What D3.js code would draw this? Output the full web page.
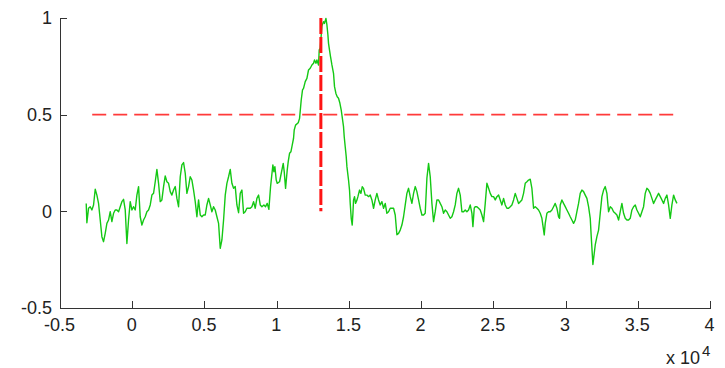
<!DOCTYPE html>
<meta charset="utf-8">
<style>

    body {
        margin: 0;
        background: #fff;
    }

    .axis path,
    .axis line {
        stroke: #333;
        stroke-width: 1px;
        shape-rendering: crispEdges;
    }

    .axis text,
    .multiplier {
        font-family: "Liberation Sans", Arial, sans-serif;
        font-size: 18px;
        fill: #222;
    }

</style>
<body>
<svg id="chart" width="725" height="368"></svg>
</body>
<script src="https://d3js.org/d3.v7.min.js"></script>

<script>

    // sampled trace, [x, amplitude]
    var signal = [
        [-3185, 0.041], [-3139, -0.059], [-3023, 0.016], [-2908, 0.024], [-2792, 0.007], [-2677, 0.033],
        [-2562, 0.114], [-2446, 0.084], [-2331, 0.041], [-2215, -0.045], [-2100, -0.131], [-1985, -0.157],
        [-1869, -0.114], [-1754, -0.062], [-1638, -0.045], [-1523, -0.002], [-1408, -0.053], [-1292, -0.010],
        [-1177, 0.007], [-1061, 0.007], [-946, -0.002], [-831, 0.024], [-715, 0.050], [-600, 0.062],
        [-484, 0.007], [-369, -0.166], [-254, -0.045], [-138, 0.050], [-23, 0.007], [93, 0.024],
        [208, 0.007], [323, 0.084], [439, 0.128], [554, -0.028], [670, -0.071], [785, -0.045],
        [900, -0.028], [1016, -0.002], [1131, 0.007], [1247, 0.033], [1362, 0.084], [1477, 0.093],
        [1593, 0.153], [1708, 0.217], [1824, 0.145], [1939, 0.050], [2054, 0.059], [2170, 0.128],
        [2285, 0.183], [2401, 0.153], [2516, 0.145], [2631, 0.102], [2747, 0.084], [2862, 0.110],
        [2978, 0.128], [3093, 0.067], [3208, 0.024], [3324, 0.179], [3439, 0.240], [3555, 0.252],
        [3670, 0.197], [3785, 0.093], [3901, 0.128], [4016, 0.179], [4132, 0.162], [4247, 0.110],
        [4362, 0.050], [4478, -0.028], [4593, 0.059], [4709, -0.019], [4824, -0.028], [4939, -0.019],
        [5055, -0.019], [5170, 0.033], [5286, 0.067], [5401, 0.033], [5516, -0.002], [5632, 0.024],
        [5747, 0.007], [5863, -0.028], [5978, -0.062], [6093, -0.191], [6209, -0.148], [6324, -0.045],
        [6440, 0.084], [6555, 0.145], [6670, 0.179], [6786, 0.217], [6901, 0.145], [7017, 0.119],
        [7132, 0.128], [7247, 0.033], [7363, -0.007], [7478, 0.093], [7594, 0.110], [7709, -0.010],
        [7824, -0.002], [7940, 0.016], [8055, 0.016], [8171, 0.016], [8286, 0.024], [8401, 0.050],
        [8517, 0.016], [8632, 0.067], [8748, 0.084], [8863, 0.033], [8978, 0.024],
        [9115, 0.033], [9230, 0.024], [9346, 0.041], [9461, 0.010], [9577, 0.127], [9738, 0.240],
        [9808, 0.205], [9877, 0.231], [9969, 0.162], [10038, 0.145], [10200, 0.153], [10385, 0.222],
        [10454, 0.248], [10523, 0.205], [10616, 0.119], [10731, 0.214], [10800, 0.257], [10892, 0.300],
        [10985, 0.308], [11077, 0.343], [11169, 0.378], [11215, 0.421], [11308, 0.446], [11492, 0.458],
        [11585, 0.481],
        [11700, 0.576], [11790, 0.628], [11860, 0.636], [11977, 0.671], [12094, 0.688], [12205, 0.731],
        [12323, 0.740], [12441, 0.757], [12552, 0.766], [12621, 0.783], [12718, 0.766], [12787, 0.783],
        [12898, 0.757], [12946, 0.835], [13015, 0.843], [13133, 0.960], [13244, 0.981], [13313, 0.972],
        [13410, 0.998], [13479, 0.964], [13548, 0.912], [13590, 0.869], [13659, 0.834], [13728, 0.800],
        [13825, 0.757], [13936, 0.714], [14005, 0.645], [14102, 0.610], [14192, 0.593], [14282, 0.585],
        [14379, 0.559], [14469, 0.524],
        [14628, 0.438], [14677, 0.386], [14746, 0.334], [14815, 0.283], [14864, 0.231], [14975, 0.162],
        [15044, 0.110], [15092, 0.041], [15162, -0.036], [15231, -0.071], [15279, -0.010], [15321, 0.058],
        [15390, 0.076], [15459, 0.041], [15556, 0.058], [15625, 0.076], [15736, 0.110], [15833, 0.093],
        [15923, 0.127], [16013, 0.119],
        [16131, 0.084], [16246, 0.084], [16362, 0.076], [16477, 0.084], [16593, 0.059], [16708, 0.016],
        [16823, 0.059], [16939, 0.093], [17054, 0.059], [17170, 0.033], [17285, 0.050], [17400, 0.016],
        [17516, 0.041], [17631, -0.010], [17747, -0.002], [17862, 0.016], [17977, 0.016], [18093, 0.016],
        [18208, -0.019], [18324, -0.121], [18439, -0.114], [18554, -0.097], [18670, -0.071], [18785, -0.028],
        [18901, 0.033], [19016, 0.093], [19131, 0.119], [19247, 0.076], [19362, 0.041], [19478, 0.093],
        [19593, 0.128], [19708, 0.102], [19824, 0.059], [19939, 0.016], [20055, -0.019], [20170, -0.019],
        [20285, -0.010], [20401, 0.171], [20516, 0.248], [20632, 0.179], [20747, 0.041], [20862, -0.053],
        [20978, -0.002], [21093, 0.059], [21209, 0.059], [21324, 0.041], [21439, 0.024], [21555, -0.010],
        [21670, 0.007], [21786, -0.002], [21901, -0.019], [22016, -0.036], [22132, -0.028], [22247, -0.002],
        [22363, 0.033], [22478, 0.093], [22593, 0.119], [22709, 0.084], [22824, -0.002], [22940, -0.002],
        [23055, 0.007], [23170, -0.002], [23286, 0.007], [23401, 0.033], [23517, -0.010], [23586, -0.079],
        [23678, 0.016], [23747, 0.024], [23863, 0.024], [23978, 0.016], [24094, 0.007], [24209, -0.019],
        [24324, -0.053], [24440, 0.041], [24555, 0.145], [24671, 0.119], [24786, 0.093], [24901, 0.076],
        [25017, 0.076], [25132, 0.059], [25248, 0.076], [25363, 0.084], [25478, 0.059], [25594, 0.033],
        [25709, 0.067], [25825, 0.033], [25940, 0.016], [26055, 0.016], [26171, 0.024], [26286, 0.033],
        [26402, 0.059], [26517, 0.093], [26632, 0.067], [26748, 0.041],
        [26862, 0.050], [26977, 0.059], [27093, 0.093], [27208, 0.145], [27324, 0.153], [27439, 0.162],
        [27554, 0.166], [27670, 0.119], [27785, 0.016], [27901, 0.024], [28016, 0.016], [28131, 0.007],
        [28247, -0.010], [28362, -0.036], [28478, -0.097], [28524, -0.122], [28593, -0.062], [28708, -0.010],
        [28824, -0.002], [28939, -0.002], [29055, 0.007], [29170, 0.024], [29285, 0.041], [29401, 0.016],
        [29516, -0.028], [29585, -0.036], [29632, 0.033], [29747, 0.059], [29862, 0.041], [29978, 0.024],
        [30093, 0.007], [30209, -0.010], [30324, -0.028], [30439, -0.045], [30555, -0.062], [30670, -0.045],
        [30786, -0.002], [30901, 0.041], [31016, 0.093], [31132, 0.110], [31247, 0.102], [31363, 0.084],
        [31478, 0.067], [31593, 0.024], [31709, -0.036], [31778, -0.131], [31893, -0.275], [31986, -0.217],
        [32055, -0.174], [32170, -0.131], [32286, -0.097], [32401, -0.010], [32517, 0.076], [32632, 0.110],
        [32747, 0.128], [32863, 0.093], [32978, -0.002], [33094, 0.024], [33209, 0.016], [33324, -0.002],
        [33440, -0.010], [33555, -0.019], [33671, -0.045], [33786, -0.002], [33901, 0.041], [34017, -0.010],
        [34132, -0.036], [34248, -0.045], [34363, -0.045], [34478, -0.036], [34594, 0.007], [34709, 0.024],
        [34825, 0.033], [34940, 0.007], [35055, -0.010], [35171, -0.028], [35286, -0.002], [35402, 0.024],
        [35517, 0.093], [35632, 0.119], [35748, 0.110], [35863, 0.093], [35979, 0.067], [36094, 0.041],
        [36209, 0.059], [36325, 0.076], [36440, 0.093], [36556, 0.076], [36671, 0.059], [36786, 0.041],
        [36902, 0.067], [37017, 0.084], [37133, 0.033], [37248, -0.036], [37363, 0.033], [37479, 0.084],
        [37594, 0.059], [37710, 0.041]
    ];

    // half-height threshold and the marker at the peak
    var thresholdLevel = 0.5;
    var thresholdX = [-2770, 37600];
    var markerX = 13060;
    var markerY = [0, 1];

    var xTicks = [-5000, 0, 5000, 10000, 15000, 20000, 25000, 30000, 35000, 40000];
    var yTicks = [-0.5, 0, 0.5, 1];
    var xExponent = 4;

    var svg = d3.select("#chart");

    var x = d3.scaleLinear().domain([-5000, 40000]).range([60, 710]);
    var y = d3.scaleLinear().domain([-0.5, 1]).range([308, 18]);

    var line = d3.line()
        .x(function (d) { return x(d[0]); })
        .y(function (d) { return y(d[1]); });

    svg.append("path")
        .datum(signal)
        .attr("fill", "none")
        .attr("stroke", "#14c814")
        .attr("stroke-width", 1.4)
        .attr("stroke-linejoin", "round")
        .attr("d", line);

    svg.append("line")
        .attr("x1", x(thresholdX[0]))
        .attr("x2", x(thresholdX[1]))
        .attr("y1", y(thresholdLevel))
        .attr("y2", y(thresholdLevel))
        .attr("stroke", "#ff3a3a")
        .attr("stroke-width", 1.6)
        .attr("stroke-dasharray", "14,7");

    svg.append("line")
        .attr("x1", x(markerX))
        .attr("x2", x(markerX))
        .attr("y1", y(markerY[1]))
        .attr("y2", y(markerY[0]))
        .attr("stroke", "#ff1414")
        .attr("stroke-width", 3)
        .attr("stroke-dasharray", "16,3");

    // matlab style: ticks inside, no box
    var xAxis = d3.axisBottom(x)
        .tickValues(xTicks)
        .tickSizeInner(-7)
        .tickSizeOuter(0)
        .tickPadding(10)
        .tickFormat(function (d) { return String(d / Math.pow(10, xExponent)); });

    var yAxis = d3.axisLeft(y)
        .tickValues(yTicks)
        .tickSizeInner(-7)
        .tickSizeOuter(0)
        .tickPadding(8)
        .tickFormat(function (d) { return String(d); });

    svg.append("g")
        .attr("class", "axis")
        .attr("transform", "translate(0," + y.range()[0] + ")")
        .call(xAxis)
        .selectAll("text").attr("dx", "-1");

    svg.append("g")
        .attr("class", "axis")
        .attr("transform", "translate(" + x.range()[0] + ",0)")
        .call(yAxis);

    svg.selectAll(".axis text").attr("font-family", null).attr("font-size", null);

    svg.append("text")
        .attr("class", "multiplier")
        .attr("x", 666)
        .attr("y", 364)
        .text("x 10");

    svg.append("text")
        .attr("class", "multiplier")
        .attr("x", 702)
        .attr("y", 356)
        .style("font-size", "15px")
        .text(xExponent);

</script>
